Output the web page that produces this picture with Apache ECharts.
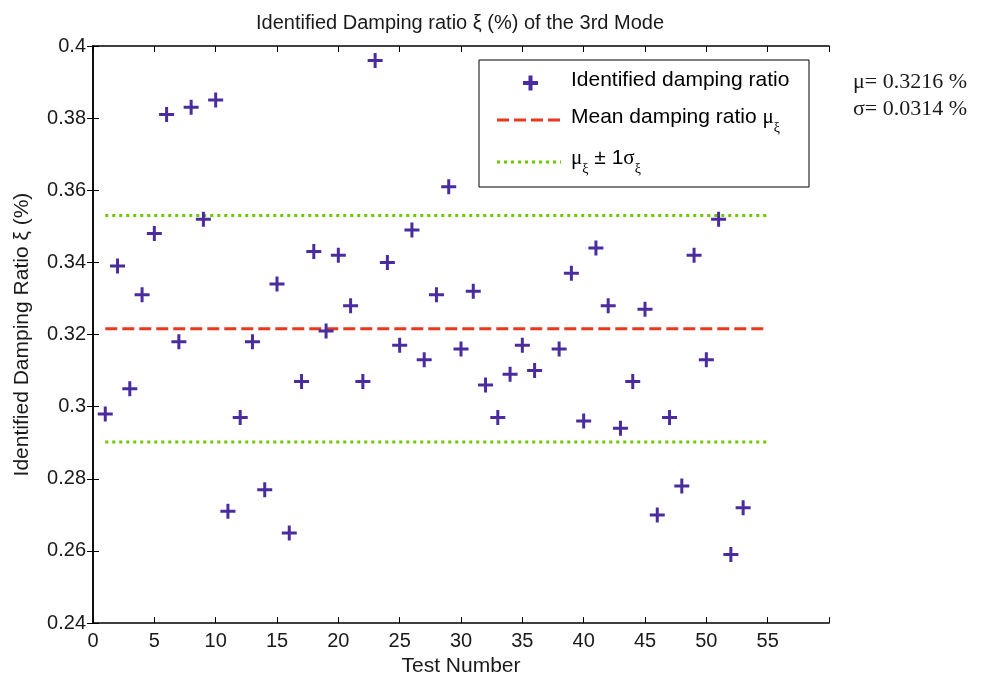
<!DOCTYPE html>
<html>
<head>
<meta charset="utf-8">
<script src="https://cdn.jsdelivr.net/npm/echarts@6/dist/echarts.min.js"></script>
<style>
html,body{margin:0;padding:0;background:#fff;}
#chart{width:981px;height:682px;}
</style>
</head>
<body>
<div id="chart"></div>
<script>
// ---- data ----
var testNumbers = [1,2,3,4,5,6,7,8,9,10,11,12,13,14,15,16,17,18,19,20,21,22,23,24,25,26,27,28,29,30,31,32,33,34,35,36,38,39,40,41,42,43,44,45,46,47,48,49,50,51,52,53];
var dampingRatios = [0.298,0.339,0.305,0.331,0.348,0.381,0.318,0.383,0.352,0.385,0.271,0.297,0.318,0.277,0.334,0.265,0.307,0.343,0.321,0.342,0.328,0.307,0.396,0.340,0.317,0.349,0.313,0.331,0.361,0.316,0.332,0.306,0.297,0.309,0.317,0.310,0.316,0.337,0.296,0.344,0.328,0.294,0.307,0.327,0.270,0.297,0.278,0.342,0.313,0.352,0.259,0.272];
var meanValue = 0.3216;
var sigmaValue = 0.0314;
var lineRange = [1, 55];
var xTicks = [0,5,10,15,20,25,30,35,40,45,50,55];
var yTicks = [0.24,0.26,0.28,0.3,0.32,0.34,0.36,0.38,0.4];

var scatterData = testNumbers.map(function(t,i){ return [t, dampingRatios[i]]; });
function hline(v){ return [[lineRange[0], v],[lineRange[1], v]]; }

var PURPLE = '#4B2C9E', RED = '#E8381F', GREEN = '#6CC800', TXT = '#1a1a1a';
var plusPath = 'path://M4,0H6V4H10V6H6V10H4V6H0V4H4Z';
var sansFont = 'Liberation Sans, Arial, sans-serif';
var serifFont = 'Liberation Serif, Times New Roman, serif';

var chart = echarts.init(document.getElementById('chart'), null, {renderer:'canvas'});

var axisCommon = {
  axisLine:{show:true, lineStyle:{color:'#000', width:1.5}},
  axisTick:{show:true, inside:true, length:6, lineStyle:{color:'#000', width:1}},
  splitLine:{show:false}
};

var rich = {
  n:{fontSize:21, fontFamily:sansFont, color:TXT, lineHeight:26},
  g:{fontSize:21, fontFamily:serifFont, color:TXT, lineHeight:26},
  s:{fontSize:14, fontFamily:serifFont, color:TXT, lineHeight:26, verticalAlign:'bottom', padding:[0,0,-5,0]}
};

var lx = 479, ly = 60, lw = 330, lh = 127;
var option = {
  animation:false,
  backgroundColor:'#fff',
  title:{
    text:'Identified Damping ratio ξ (%) of the 3rd Mode',
    left:455, top:8, textAlign:'center',
    textStyle:{fontFamily:sansFont, fontSize:20, fontWeight:'normal', color:TXT}
  },
  grid:{left:93, top:46, right:152, bottom:55, containLabel:false},
  xAxis:[
    Object.assign({}, axisCommon, {
      type:'value', min:0, max:60, interval:5, position:'bottom',
      name:'Test Number', nameLocation:'middle', nameGap:32,
      nameTextStyle:{fontFamily:sansFont, fontSize:21, color:TXT},
      axisLabel:{fontFamily:sansFont, fontSize:20, color:TXT, margin:8,
        formatter:function(v){ return xTicks.indexOf(v) >= 0 ? String(v) : ''; }}
    }),
    Object.assign({}, axisCommon, {
      type:'value', min:0, max:60, interval:5, position:'top',
      axisLabel:{show:false}
    })
  ],
  yAxis:[
    Object.assign({}, axisCommon, {
      type:'value', min:0.24, max:0.4, interval:0.02, position:'left',
      name:'Identified Damping Ratio ξ (%)', nameLocation:'middle', nameGap:60,
      nameTextStyle:{fontFamily:sansFont, fontSize:21, color:TXT},
      axisLabel:{fontFamily:sansFont, fontSize:20, color:TXT, margin:7,
        formatter:function(v){
          for (var i=0;i<yTicks.length;i++){ if (Math.abs(yTicks[i]-v)<1e-9) return String(yTicks[i]); }
          return '';
        }}
    }),
    Object.assign({}, axisCommon, {
      type:'value', min:0.24, max:0.4, interval:0.02, position:'right',
      axisLabel:{show:false}
    })
  ],
  series:[
    {
      name:'Mean damping ratio', type:'line', data:hline(meanValue), symbol:'none',
      lineStyle:{color:RED, width:3, type:[12,5]}, z:2
    },
    {
      name:'mu + sigma', type:'line', data:hline(meanValue + sigmaValue), symbol:'none',
      lineStyle:{color:GREEN, width:3, type:[3,4]}, z:2
    },
    {
      name:'mu - sigma', type:'line', data:hline(meanValue - sigmaValue), symbol:'none',
      lineStyle:{color:GREEN, width:3, type:[3,4]}, z:2
    },
    {
      name:'Identified damping ratio', type:'scatter', data:scatterData,
      symbol:plusPath, symbolSize:15,
      itemStyle:{color:PURPLE, opacity:1}, z:3
    }
  ],
  graphic:[
    {type:'rect', shape:{x:lx, y:ly, width:lw, height:lh}, style:{fill:'#fff', stroke:'#000', lineWidth:1}, z:10},
    {type:'rect', shape:{x:523, y:81, width:15, height:4}, style:{fill:PURPLE}, z:11},
    {type:'rect', shape:{x:528.5, y:75.5, width:4, height:15}, style:{fill:PURPLE}, z:11},
    {type:'line', shape:{x1:497, y1:120, x2:561, y2:120}, style:{stroke:RED, lineWidth:3, lineDash:[12,5]}, z:11},
    {type:'line', shape:{x1:497, y1:162, x2:561, y2:162}, style:{stroke:GREEN, lineWidth:3, lineDash:[3,4]}, z:11},
    {type:'text', left:571, top:70, z:11, style:{text:'{n|Identified damping ratio}', rich:rich}},
    {type:'text', left:571, top:107, z:11, style:{text:'{n|Mean damping ratio }{g|μ}{s|ξ}', rich:rich}},
    {type:'text', left:571, top:148, z:11, style:{text:'{g|μ}{s|ξ}{n| ± 1}{g|σ}{s|ξ}', rich:rich}},
    {type:'text', left:853, top:71, z:11, style:{text:'μ= 0.3216 %', fontFamily:serifFont, fontSize:22, fill:TXT}},
    {type:'text', left:853, top:98, z:11, style:{text:'σ= 0.0314 %', fontFamily:serifFont, fontSize:22, fill:TXT}}
  ]
};
chart.setOption(option);
</script>
</body>
</html>
